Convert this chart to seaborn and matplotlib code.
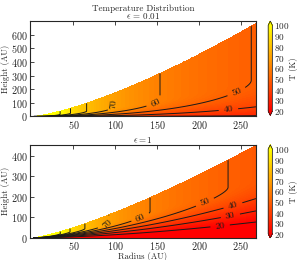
import numpy as np
import seaborn as sns
import matplotlib
matplotlib.use("Agg")
import matplotlib.pyplot as plt


# values
# radius where each contour meets the disk surface (vertical part of the line)
surf_temps = [100, 90, 80, 70, 60, 50]
surf_radius_top = [33, 48, 66, 98, 154, 259]      # epsilon = 0.01
surf_radius_bot = [33, 46, 66, 94, 145, 225]      # epsilon = 1

# upper edge of the coloured disk (radius, height) in AU
edge_r_top = [67, 99, 133, 268]
edge_h_top = [102, 172, 255, 690]
edge_r_bot = [34, 67, 84, 145, 206, 268]
edge_h_bot = [31, 75, 95, 205, 319, 452]

# midplane temperature, height (fraction of edge) of warm layer, profile steepness
t_mid = {"top": 27, "bot": 10}
z_warm = {"top": 0.40, "bot": 0.65}
steep = {"top": 0.6, "bot": 1.46}

line_levels = [20, 30, 40, 50, 60, 70, 80, 90, 100]
cbar_ticks = [20, 30, 40, 50, 60, 70, 80, 90, 100]

# where the inline labels sit (radius, height)
label_pos_top = [(97, 95), (147, 115), (243, 205), (235, 60)]
label_pos_bot = [(90, 66), (129, 108), (205, 193), (240, 165), (237, 118), (225, 66)]


def powerlaw(xs, ys):
    k, b = np.polyfit(np.log(xs), np.log(ys), 1)
    return lambda x: np.exp(b) * x ** k


def temp_field(r, z, surf_r, edge_r, edge_h, key):
    ts = powerlaw(surf_r, surf_temps)(r)
    h = powerlaw(edge_r, edge_h)(r)
    zeta = np.clip(z / (z_warm[key] * h), 0, 1)
    prof = np.sin(np.pi / 2 * zeta) ** steep[key]
    T = t_mid[key] + (ts - t_mid[key]) * prof
    return np.ma.masked_where(z > h, T)


sns.set_theme(style="ticks")
plt.rcParams["font.family"] = "serif"
plt.rcParams["font.serif"] = ["cmr10", "DejaVu Serif"]
plt.rcParams["mathtext.fontset"] = "cm"
plt.rcParams["axes.formatter.use_mathtext"] = True
plt.rcParams["font.size"] = 7

fig = plt.figure(figsize=(2.99, 2.60), dpi=100)
ax1 = fig.add_axes([0.100, 0.552, 0.756, 0.367])
ax2 = fig.add_axes([0.100, 0.085, 0.756, 0.358])
cax1 = fig.add_axes([0.897, 0.556, 0.014, 0.363])
cax2 = fig.add_axes([0.897, 0.085, 0.014, 0.358])

r = np.linspace(1, 268, 500)
panels = [
    (ax1, cax1, surf_radius_top, edge_r_top, edge_h_top, "top", 700, 600, label_pos_top,
     "Temperature Distribution\n$\\epsilon$ = 0.01"),
    (ax2, cax2, surf_radius_bot, edge_r_bot, edge_h_bot, "bot", 452, 400, label_pos_bot,
     "$\\epsilon = 1$"),
]

for ax, cax, sr, er, eh, key, ymax, ytop, lpos, title in panels:
    z = np.linspace(0, ymax, 500)
    R, Z = np.meshgrid(r, z)
    T = temp_field(R, Z, sr, er, eh, key)
    cf = ax.contourf(R, Z, T, levels=np.linspace(20, 100, 81), cmap="autumn",
                     extend="both")
    cs = ax.contour(R, Z, T, levels=line_levels, colors="k", linewidths=0.7)
    ax.clabel(cs, fmt="%d", fontsize=7, inline=True, manual=lpos)
    ax.set_xlim(-2, 268)
    ax.set_ylim(0, ymax)
    ax.set_xticks([50, 100, 150, 200, 250])
    ax.set_yticks(np.arange(0, ytop + 1, 100))
    ax.tick_params(direction="in", top=True, right=True, length=3, width=0.6,
                   labelsize=7.3, pad=1.5)
    for s in ax.spines.values():
        s.set_linewidth(0.8)
    ax.set_ylabel("Height (AU)", fontsize=6.3, labelpad=1)
    ax.set_title(title, fontsize=6.5, pad=1.5, linespacing=0.75)
    cb = fig.colorbar(cf, cax=cax, ticks=cbar_ticks, extendfrac=0.05)
    cb.outline.set_linewidth(0.6)
    cb.ax.tick_params(length=0, labelsize=6.6, pad=1)
    cb.set_label("T (K)", fontsize=6.3, labelpad=0)

ax2.set_xlabel("Radius (AU)", fontsize=6.3, labelpad=0)

fig.savefig("out.png", dpi=100)
